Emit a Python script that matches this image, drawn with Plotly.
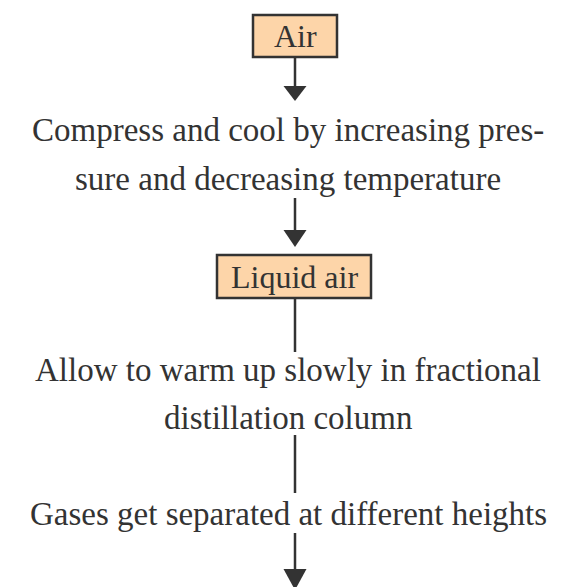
import plotly.graph_objects as go

# ---- data (text content of the flowchart) ----
box_labels = ["Air", "Liquid air"]
step_lines = [
    "Compress and cool by increasing pres-",
    "sure and decreasing temperature",
    "Allow to warm up slowly in fractional",
    "distillation column",
    "Gases get separated at different heights",
]

# ---- layout constants ----
W, H = 561, 587
CX = 295
FONT = "Liberation Serif, Times New Roman, serif"
INK = "#333333"
FILL = "#FDD5A9"

box_geom = [(253, 337, 15, 57), (217, 371, 255, 298)]
step_y = [130, 179, 370, 418, 514]
stems = [(57, 86), (198, 230), (298, 352), (435, 493), (533, 569)]
heads = [(86, 101), (230, 247), (569, 590)]

fig = go.Figure()
fig.add_trace(go.Scatter(x=[0, W], y=[0, H], mode="markers",
                         marker=dict(opacity=0), hoverinfo="skip", showlegend=False))

shapes = []
for (x0, x1, y0, y1) in box_geom:
    shapes.append(dict(type="rect", x0=x0, x1=x1, y0=y0, y1=y1,
                       fillcolor=FILL, line=dict(color=INK, width=2.5), layer="below"))
for (y0, y1) in stems:
    shapes.append(dict(type="line", x0=CX, x1=CX, y0=y0, y1=y1,
                       line=dict(color=INK, width=2.5)))
for (y0, y1) in heads:
    shapes.append(dict(type="path",
                       path=f"M {CX-11.5} {y0} L {CX+11.5} {y0} L {CX} {y1} Z",
                       fillcolor=INK, line=dict(color=INK, width=0)))

annotations = []
for (x0, x1, y0, y1), lab in zip(box_geom, box_labels):
    annotations.append(dict(x=(x0 + x1) / 2, y=(y0 + y1) / 2, text=lab, showarrow=False,
                            xanchor="center", yanchor="middle",
                            font=dict(family=FONT, size=32, color=INK)))
for y, t in zip(step_y, step_lines):
    annotations.append(dict(x=288, y=y, text=t, showarrow=False,
                            xanchor="center", yanchor="middle",
                            font=dict(family=FONT, size=33, color=INK)))

fig.update_layout(
    width=W, height=H, margin=dict(l=0, r=0, t=0, b=0),
    paper_bgcolor="white", plot_bgcolor="white",
    xaxis=dict(range=[0, W], visible=False, fixedrange=True),
    yaxis=dict(range=[H, 0], visible=False, fixedrange=True),
    shapes=shapes, annotations=annotations, showlegend=False,
)
fig.write_html("out.html", config={"displayModeBar": False},
               post_script="document.body.style.margin='0';document.body.style.overflow='hidden';")
